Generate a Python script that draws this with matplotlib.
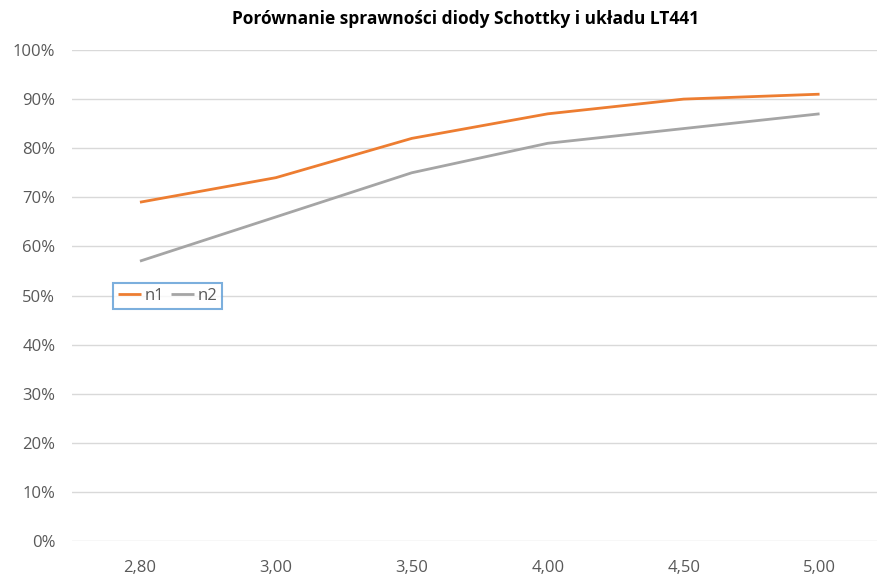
import matplotlib
matplotlib.use("Agg")
import matplotlib.pyplot as plt
from matplotlib.ticker import FuncFormatter

# Data
napiecie = ["2,80", "3,00", "3,50", "4,00", "4,50", "5,00"]
n1 = [69, 74, 82, 87, 90, 91]
n2 = [57, 66, 75, 81, 84, 87]

plt.rcParams["font.family"] = ["Open Sans", "DejaVu Sans"]

fig = plt.figure(figsize=(8.78, 5.75), dpi=100)
ax = fig.add_axes([72 / 878, 34 / 575, 806 / 878, 491 / 575])

x = list(range(len(napiecie)))
ax.plot(x, n1, color="#ED7D31", lw=2.0, label="n1", solid_capstyle="butt")
ax.plot(x, n2, color="#A5A5A5", lw=2.0, label="n2", solid_capstyle="butt")

ax.set_xlim(-0.5, 5.43)
ax.set_ylim(0, 100)
ax.set_yticks(range(0, 101, 10))
ax.yaxis.set_major_formatter(FuncFormatter(lambda v, p: f"{int(v)}%"))
ax.set_xticks(x)
ax.set_xticklabels(napiecie)

ax.grid(axis="y", color="#D9D9D9", lw=1)
ax.set_axisbelow(True)
for s in ax.spines.values():
    s.set_visible(False)
ax.tick_params(length=0, labelsize=12, colors="#595959", pad=12)
ax.tick_params(axis="x", pad=14)

fig.text(0.53, 0.967, "Porównanie sprawności diody Schottky i układu LT441",
         ha="center", va="center", fontsize=12.5, fontweight="bold", color="#000000")

leg = ax.legend(loc="center left", bbox_to_anchor=(0.04, 0.5), ncol=2,
                frameon=True, fancybox=False, fontsize=12, handlelength=1.4,
                handletextpad=0.2, columnspacing=0.4, borderpad=0.3,
                labelcolor="#595959")
leg.get_frame().set_edgecolor("#5B9BD5")
leg.get_frame().set_linewidth(1.5)

fig.savefig("out.png", dpi=100, facecolor="white")
